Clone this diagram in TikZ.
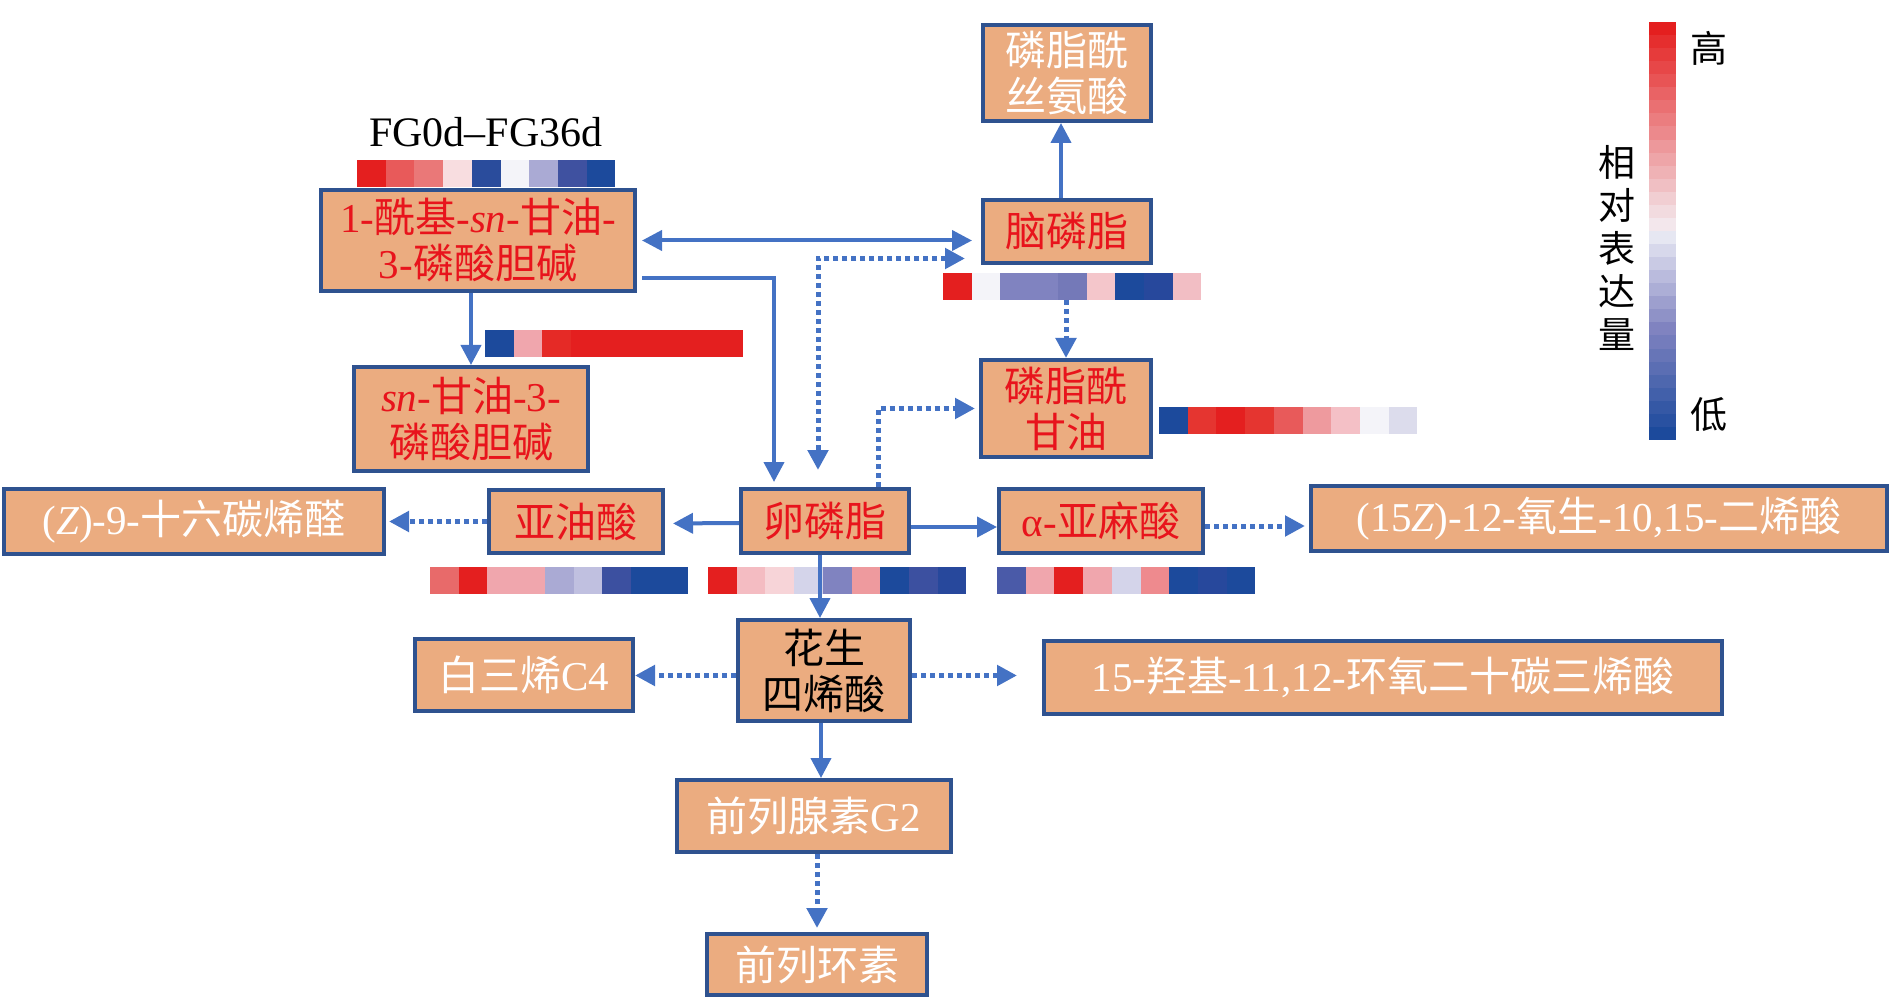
\documentclass[tikz,border=0pt]{standalone}
\usepackage{fontspec}
\setmainfont{Liberation Serif}
\newfontfamily\cjk{Noto Sans CJK SC}
\usetikzlibrary{arrows.meta}

\newcommand{\zh}[1]{{\cjk #1}}

\definecolor{boxfill}{HTML}{EBAC80}
\definecolor{boxline}{HTML}{2F528F}
\definecolor{linkblue}{HTML}{4472C4}
\definecolor{txtred}{HTML}{E8141C}
\definecolor{hot}{HTML}{E41F1F}
\definecolor{mid}{HTML}{F4F4F9}
\definecolor{cool}{HTML}{8083C0}
\definecolor{cold}{HTML}{1C4A9C}

% one row of 9 heat cells, top left corner at (#1,#2)
\newcommand{\heatrow}[3]{%
  \foreach \hx [count=\i from 0] in {#3} {%
    \definecolor{cellc}{HTML}{\hx}%
    \fill[cellc] ({#1+\i*28.7},#2) rectangle ++(28.8,27);
  }%
}

\tikzset{every picture/.style={line width=0.75pt}}
\tikzset{
  box/.style={draw=boxline, line width=4pt, fill=boxfill, inner sep=2pt, align=center, font=\fontsize{41}{46}\selectfont},
  rbox/.style={box, text=txtred},
  wbox/.style={box, text=white},
  kbox/.style={box, text=black},
  link/.style={draw=linkblue, line width=4pt, >={Triangle[length=20pt,width=20pt]}},
  dots/.style={link, line width=5pt, dash pattern=on 5pt off 4pt}
}

\begin{document}
\begin{tikzpicture}[x=1pt,y=1pt,yscale=-1,xscale=1]
	\useasboundingbox (0,0) rectangle (1891,1000);

	% Boxes
	\node[wbox,minimum width=168pt,minimum height=96pt] (ps) at (1067,73) {\zh{磷脂酰}\\\zh{丝氨酸}};
	\node[rbox,minimum width=168pt,minimum height=63pt] (pe) at (1067,231.5) {\zh{脑磷脂}};
	\node[rbox,minimum width=314pt,minimum height=101pt] (lpc) at (478,240.5) {1-\zh{酰基}-\textit{sn}-\zh{甘油}-\\3-\zh{磷酸胆碱}};
	\node[rbox,minimum width=234pt,minimum height=104pt] (gpc) at (471,419) {\textit{sn}-\zh{甘油}-3-\\\zh{磷酸胆碱}};
	\node[rbox,minimum width=170pt,minimum height=97pt] (pg) at (1066,408.5) {\zh{磷脂酰}\\\zh{甘油}};
	\node[rbox,minimum width=168pt,minimum height=64pt] (pc) at (825,521) {\zh{卵磷脂}};
	\node[rbox,minimum width=174pt,minimum height=63pt] (la) at (576,521.5) {\zh{亚油酸}};
	\node[wbox,minimum width=380pt,minimum height=65pt] (hda) at (194,521.5) {(\textit{Z})-9-\zh{十六碳烯醛}};
	\node[rbox,minimum width=204pt,minimum height=64pt] (ala) at (1101,521) {α-\zh{亚麻酸}};
	\node[wbox,minimum width=576pt,minimum height=65pt] (oxo) at (1599,518.5) {(15\textit{Z})-12-\zh{氧生}-10,15-\zh{二烯酸}};
	\node[kbox,minimum width=172pt,minimum height=101pt] (aa) at (824,670.5) {\zh{花生}\\\zh{四烯酸}};
	\node[wbox,minimum width=218pt,minimum height=72pt] (ltc4) at (524,675) {\zh{白三烯}C4};
	\node[wbox,minimum width=678pt,minimum height=73pt] (heeta) at (1383,677.5) {15-\zh{羟基}-11,12-\zh{环氧二十碳三烯酸}};
	\node[wbox,minimum width=274pt,minimum height=72pt] (pgg2) at (814,816) {\zh{前列腺素}G2};
	\node[wbox,minimum width=220pt,minimum height=61pt] (pgi) at (817,964.5) {\zh{前列环素}};

	% Heat rows
	\node[font=\fontsize{42}{48}\selectfont] (grp) at (486,132) {FG0d--FG36d};
	\heatrow{357}{160}{E41F1F,E85A5A,EA7878,F8DDE0,2A4C9C,F4F4F9,AAAAD4,3F51A0,1C4A9C}
	\heatrow{485}{330}{1C4A9C,F0A6AD,E52A26,E41F1F,E41F1F,E41F1F,E41F1F,E41F1F,E41F1F}
	\heatrow{943}{273}{E41F1F,F4F4F9,8083C0,8083C0,7479B8,F4C6CB,1C4A9C,27489C,F2BEC4}
	\heatrow{1159}{407}{1C4A9C,E53530,E41F1F,E53530,E85A5A,EE9A9E,F4C0C6,F4F4F9,DCDCEC}
	\heatrow{430}{567}{E86A6A,E41F1F,F0A6AD,F0A6AD,AAAAD4,C0C0E0,3C50A0,1C4A9C,1C4A9C}
	\heatrow{708}{567}{E41F1F,F4BCC2,F7D4D8,D4D4EA,8083C0,EE9A9E,1C4A9C,3C50A0,27489C}
	\heatrow{997}{567}{4A5AA8,F0A6AD,E41F1F,F0A6AD,D4D4EA,EE8A8E,1C4A9C,27489C,1C4A9C}
	\coordinate (pebar) at (1066,300);

	% Links
	\draw[link,<->,shorten <=5pt,shorten >=9pt] (lpc.east) -- (lpc.east -| pe.west);
	\draw[link,->,shorten <=5pt,shorten >=5pt] ([yshift=38pt]lpc.east) -| ([xshift=-51pt]pc.north);
	\draw[dots,<->,shorten <=16pt,shorten >=17pt] ([yshift=27pt]pe.west) -| ([xshift=-7pt]pc.north);
	\draw[dots,->,shorten >=4pt] ([xshift=53pt]pc.north) |- (pg.west);
	\draw[link,->] (lpc.south -| gpc.north) -- (gpc.north);
	\draw[link,->] ([xshift=-6pt]pe.north) -- ([xshift=-6pt]ps.south);
	\draw[dots,->] (pebar) -- (pg.north);
	\draw[link,->,shorten >=8pt] ([yshift=2pt]pc.west) -- ([yshift=2pt]la.east);
	\draw[link,->] ([yshift=6pt]pc.east) -- ([yshift=6pt]ala.west);
	\draw[dots,->,shorten >=3pt] (la.west) -- (la.west -| hda.east);
	\draw[dots,->,shorten >=4pt] ([yshift=5pt]ala.east) -- ([yshift=5pt]ala.east -| oxo.west);
	\draw[link,->] ([xshift=-5pt]pc.south) -- ([xshift=-5pt]pc.south |- aa.north);
	\draw[dots,->] ([yshift=5pt]aa.west) -- ([yshift=5pt]aa.west -| ltc4.east);
	\draw[dots,->,shorten >=25pt] ([yshift=5pt]aa.east) -- ([yshift=5pt]aa.east -| heeta.west);
	\draw[link,->] ([xshift=-3pt]aa.south) -- ([xshift=-3pt]aa.south |- pgg2.north);
	\draw[dots,->,shorten >=4pt] (pgi.north |- pgg2.south) -- (pgi.north);

	% Colour bar
	\foreach \k in {0,...,15} {
		\pgfmathtruncatemacro\p{100-\k*100/16}
		\fill[hot!\p!mid] (1649,{22+\k*13.06}) rectangle ++(27,13.3);
	}
	\foreach \k in {0,...,7} {
		\pgfmathtruncatemacro\p{(\k+1)*12.5}
		\fill[cool!\p!mid] (1649,{231+\k*13.06}) rectangle ++(27,13.3);
	}
	\foreach \k in {8,...,15} {
		\pgfmathtruncatemacro\p{(\k-7)*12.5}
		\fill[cold!\p!cool] (1649,{231+\k*13.06}) rectangle ++(27,13.3);
	}
	% Text Node
	\node[font=\fontsize{37}{43}\selectfont] (hi) at (1709,48) {\zh{高}};
	% Text Node
	\node[font=\fontsize{37}{43}\selectfont] (lo) at (1709,415) {\zh{低}};
	% Text Node
	\node[align=center,font=\fontsize{37}{43}\selectfont] (lgd) at (1617,248) {\zh{相}\\\zh{对}\\\zh{表}\\\zh{达}\\\zh{量}};
\end{tikzpicture}
\end{document}
